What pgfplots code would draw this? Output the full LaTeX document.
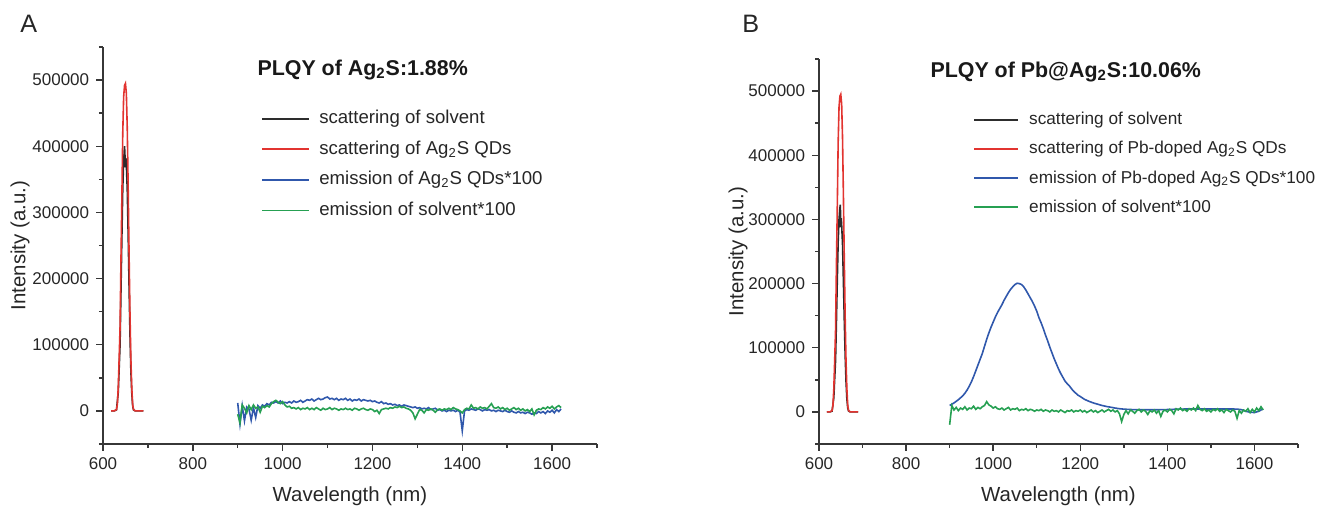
\documentclass[border=0pt]{standalone}
\usepackage{fontspec}
\setmainfont{Liberation Sans}
\usepackage{pgfplots}
\pgfplotsset{compat=1.18}
\usepackage{pgfplotstable}

\definecolor{cblack}{RGB}{45,45,45}
\definecolor{cred}{RGB}{226,52,48}
\definecolor{cblue}{RGB}{48,88,172}
\definecolor{cgreen}{RGB}{38,160,82}
\definecolor{axgray}{RGB}{55,55,55}

% scattering peaks (same excitation for both panels)
\pgfplotstableread{
x y
618 0
625 0
630 2000
632 10000
634 36000
636 80000
638 127000
640 227000
642 320000
644 420000
646 475000
648 492000
650 495000
652 480000
654 428000
656 340000
658 240000
660 150000
662 80000
664 36000
666 10000
668 2000
672 0
680 0
690 0
}\redpeak

\pgfplotstableread{
x y
618 0
625 0
630 1500
634 28000
638 100000
640 180000
642 260000
644 335000
646 378000
648 400000
649 385000
650 368000
651 382000
652 372000
654 335000
656 268000
658 190000
660 118000
662 62000
664 28000
666 8000
668 1500
672 0
690 0
}\blackA

\pgfplotstableread{
x y
618 0
625 0
630 1200
634 22000
638 80000
640 140000
642 205000
644 265000
646 300000
648 318000
649 323000
650 288000
651 302000
652 292000
654 262000
656 205000
658 145000
660 90000
662 48000
664 20000
666 6000
668 1200
672 0
690 0
}\blackB

% panel A emission x100: x, Ag2S QDs, solvent
\pgfplotstableread{
x blue green
900 12000 -5000
905 -20000 -18000
910 8000 9000
915 -15000 4000
920 6000 -3000
925 3000 8000
930 -14000 2000
935 5000 9000
940 -10000 4000
945 8000 6000
950 4000 -2000
955 9000 7000
960 7000 5000
965 11000 8000
970 9000 6000
975 13000 11000
980 12000 14000
985 14000 16000
990 12000 13000
995 15000 11000
1000 11000 14000
1005 13000 9000
1010 12000 6000
1015 14000 7000
1020 12000 4000
1025 15000 5000
1030 13000 3000
1035 14000 5000
1040 16000 2000
1045 13000 4000
1050 15000 3000
1055 17000 5000
1060 16000 2000
1065 18000 4000
1070 15000 2000
1075 17000 5000
1080 19000 3000
1085 17000 1000
1090 18000 4000
1095 20000 2000
1100 21000 3000
1105 18000 5000
1110 19000 2000
1115 17000 4000
1120 19000 3000
1125 16000 1000
1130 18000 3000
1135 17000 2000
1140 19000 4000
1145 16000 2000
1150 18000 3000
1155 15000 1000
1160 17000 4000
1165 16000 3000
1170 18000 1000
1175 15000 3000
1180 17000 4000
1185 16000 2000
1190 15000 1000
1195 16000 3000
1200 14000 2000
1205 15000 -1000
1210 13000 1000
1215 12000 -4000
1220 14000 2000
1225 11000 3000
1230 12000 4000
1235 10000 3000
1240 11000 5000
1245 9000 4000
1250 10000 6000
1255 8000 5000
1260 9000 7000
1265 7000 5000
1270 9000 6000
1275 8000 4000
1280 7000 3000
1285 6000 1000
1290 5000 -3000
1295 6000 -12000
1300 4000 -5000
1305 5000 2000
1310 3000 1000
1315 4000 -3000
1320 3000 2000
1325 5000 1000
1330 2000 3000
1335 3000 1000
1340 4000 -2000
1345 1000 2000
1350 2000 3000
1355 0 1000
1360 1000 3000
1365 -1000 2000
1370 1000 4000
1375 0 2000
1380 1000 5000
1385 -1000 3000
1390 1000 2000
1395 -2000 0
1400 -30000 -3000
1405 0 2000
1410 2000 4000
1415 1000 3000
1420 3000 9000
1425 2000 4000
1430 1000 5000
1435 3000 3000
1440 2000 6000
1445 0 4000
1450 2000 5000
1455 1000 3000
1460 2000 7000
1465 0 11000
1470 1000 5000
1475 -1000 4000
1480 1000 6000
1485 0 3000
1490 -1000 5000
1495 1000 2000
1500 -1000 4000
1505 -2000 1000
1510 0 3000
1515 -2000 5000
1520 -3000 2000
1525 -1000 4000
1530 -3000 1000
1535 -2000 3000
1540 -4000 0
1545 -2000 2000
1550 -3000 -1000
1555 -5000 3000
1560 -3000 -6000
1565 -4000 1000
1570 -1000 3000
1575 -3000 2000
1580 -1000 5000
1585 -4000 3000
1590 0 6000
1595 -2000 4000
1600 1000 7000
1605 -3000 3000
1610 2000 6000
1615 -1000 8000
1620 3000 5000
}\emisA

% panel B emission x100 of Pb-doped QDs
\pgfplotstableread{
x y
900 10000
905 12000
910 14000
915 16500
920 19000
925 22000
930 25000
935 29000
940 34000
945 40000
950 47000
955 55000
960 64000
965 73000
970 82000
975 91000
980 102000
985 113000
990 123000
995 132000
1000 140000
1005 148000
1010 155000
1015 161000
1020 167000
1025 174000
1030 180000
1035 186000
1040 191000
1045 195000
1050 198500
1055 200500
1060 200000
1065 198500
1070 195000
1075 190000
1080 184000
1085 178000
1090 172000
1095 165000
1100 157000
1105 147000
1110 139000
1115 130000
1120 120000
1125 111000
1130 101000
1135 92000
1140 83000
1145 75000
1150 67000
1155 60000
1160 54000
1165 48000
1170 44000
1175 40500
1180 36000
1185 32000
1190 29000
1195 26000
1200 24000
1210 19500
1220 16500
1230 14000
1240 12000
1250 10000
1260 8500
1270 7300
1280 6000
1290 5000
1300 4300
1320 3600
1340 3300
1360 3300
1380 3400
1400 3700
1420 4200
1440 4500
1460 4600
1480 4600
1500 4600
1520 4600
1540 4600
1560 4400
1570 3500
1580 1000
1590 -500
1600 -1000
1610 1000
1620 5000
}\blueB

\pgfplotstableread{
x y
900 -20000
905 10000
910 3000
915 7000
920 2000
925 6000
930 4000
935 8000
940 3000
945 6000
950 5000
955 9000
960 4000
965 7000
970 5000
975 8000
980 10000
985 16000
990 11000
995 9000
1000 6000
1005 8000
1010 5000
1015 4000
1020 6000
1025 3000
1030 5000
1035 7000
1040 3000
1045 5000
1050 4000
1055 6000
1060 2000
1065 4000
1070 3000
1075 5000
1080 2000
1085 4000
1090 3000
1095 1000
1100 3000
1105 2000
1110 4000
1115 1000
1120 3000
1125 2000
1130 0
1135 3000
1140 1000
1145 2000
1150 0
1155 3000
1160 1000
1165 -1000
1170 2000
1175 1000
1180 3000
1185 0
1190 2000
1195 1000
1200 3000
1205 0
1210 2000
1215 -1000
1220 1000
1225 3000
1230 0
1235 2000
1240 -1000
1245 1000
1250 3000
1255 0
1260 2000
1265 4000
1270 1000
1275 3000
1280 0
1285 2000
1290 -3000
1295 -15000
1300 -4000
1305 2000
1310 -3000
1315 3000
1320 1000
1325 -2000
1330 2000
1335 4000
1340 0
1345 3000
1350 1000
1355 -4000
1360 2000
1365 0
1370 3000
1375 -2000
1380 2000
1385 -7000
1390 1000
1395 3000
1400 0
1405 4000
1410 2000
1415 -3000
1420 5000
1425 3000
1430 6000
1435 2000
1440 4000
1445 1000
1450 5000
1455 3000
1460 6000
1465 2000
1470 10000
1475 4000
1480 2000
1485 5000
1490 1000
1495 3000
1500 0
1505 4000
1510 2000
1515 5000
1520 1000
1525 3000
1530 -1000
1535 4000
1540 2000
1545 0
1550 3000
1555 1000
1560 -10000
1565 2000
1570 -2000
1575 3000
1580 1000
1585 5000
1590 -1000
1595 4000
1600 0
1605 6000
1610 2000
1615 8000
1620 3000
}\greenB

\pgfplotsset{
  plqy/.style={
    scale only axis,
    xmin=600, xmax=1700,
    ymin=-50000, ymax=550000,
    axis x line*=bottom, axis y line*=left,
    axis line style={axgray, line width=0.7pt, -},
    tick align=outside,
    xtick={600,800,1000,1200,1400,1600},
    minor xtick={700,900,1100,1300,1500,1700},
    ytick={0,100000,200000,300000,400000,500000},
    minor ytick={-50000,50000,150000,250000,350000,450000,550000},
    major tick length=3.4pt, minor tick length=2pt,
    every tick/.style={axgray, line width=0.7pt},
    scaled y ticks=false, scaled x ticks=false,
    /pgf/number format/assume math mode=true,
    /pgf/number format/fixed,
    /pgf/number format/precision=0,
    /pgf/number format/1000 sep={},
    ticklabel style={font=\fontsize{8.5}{10}\selectfont, text=black!85},
    label style={font=\fontsize{10.2}{12}\selectfont, text=black!85},
    xlabel={Wavelength (nm)},
    ylabel={Intensity (a.u.)},
    legend cell align=left,
    legend style={draw=none, fill=none, anchor=north west, inner sep=0pt,
      text=black!85},
    every axis plot/.append style={line width=0.8pt},
  }
}

\begin{document}
\begin{tikzpicture}
\useasboundingbox (0,0) rectangle (661.5pt,254pt);

\node[anchor=base west, inner sep=0pt, font=\fontsize{12.6}{14}\selectfont, text=black!85] at (10pt,237.5pt) {A};
\node[anchor=base west, inner sep=0pt, font=\fontsize{12.6}{14}\selectfont, text=black!85] at (371pt,237.5pt) {B};

% panel A
\begin{axis}[plqy, width=247pt, height=198.5pt, at={(51.5pt,32pt)}, anchor=south west,
  xlabel style={at={(axis description cs:0.5,-0.131)}, anchor=center},
  ylabel style={at={(axis description cs:-0.168,0.5)}, anchor=center},
  legend image code/.code={\draw[#1, line width=0.9pt] (0pt,0pt) -- (23.5pt,0pt);},
  legend style={at={(0.320,0.852)}, row sep=2.7pt, font=\fontsize{9.3}{11}\selectfont,
    nodes={inner xsep=4.5pt, inner ysep=1.8pt, text height=7pt, text depth=2pt}}]
  \addplot[cblack] table[x=x, y=y] {\blackA};
  \addplot[cred] table[x=x, y=y] {\redpeak};
  \addplot[cblue] table[x=x, y=blue] {\emisA};
  \addplot[cgreen] table[x=x, y=green] {\emisA};
  \legend{scattering of solvent, scattering of Ag\textsubscript{2}S QDs,
    emission of Ag\textsubscript{2}S QDs*100, emission of solvent*100}
  \node[anchor=base west, inner sep=0pt, font=\bfseries\fontsize{10.7}{13}\selectfont, text=black!90]
    at (rel axis cs:0.312,0.929) {PLQY of Ag\textsubscript{2}S:1.88\%};
\end{axis}

% panel B
\begin{axis}[plqy, width=239.5pt, height=192.5pt, at={(409.5pt,32pt)}, anchor=south west,
  xlabel style={at={(axis description cs:0.5,-0.135)}, anchor=center},
  ylabel style={at={(axis description cs:-0.169,0.5)}, anchor=center},
  legend image code/.code={\draw[#1, line width=0.9pt] (0pt,0pt) -- (22pt,0pt);},
  legend style={at={(0.3215,0.876)}, row sep=2.0pt, font=\fontsize{8.6}{10.5}\selectfont,
    nodes={inner xsep=5pt, inner ysep=1.8pt, text height=7pt, text depth=2pt}}]
  \addplot[cblack] table[x=x, y=y] {\blackB};
  \addplot[cred] table[x=x, y=y] {\redpeak};
  \addplot[cblue] table[x=x, y=y] {\blueB};
  \addplot[cgreen] table[x=x, y=y] {\greenB};
  \legend{scattering of solvent, scattering of Pb-doped Ag\textsubscript{2}S QDs,
    emission of Pb-doped Ag\textsubscript{2}S QDs*100, emission of solvent*100}
  \node[anchor=base west, inner sep=0pt, font=\bfseries\fontsize{10.7}{13}\selectfont, text=black!90]
    at (rel axis cs:0.232,0.953) {PLQY of Pb@Ag\textsubscript{2}S:10.06\%};
\end{axis}
\end{tikzpicture}
\end{document}
